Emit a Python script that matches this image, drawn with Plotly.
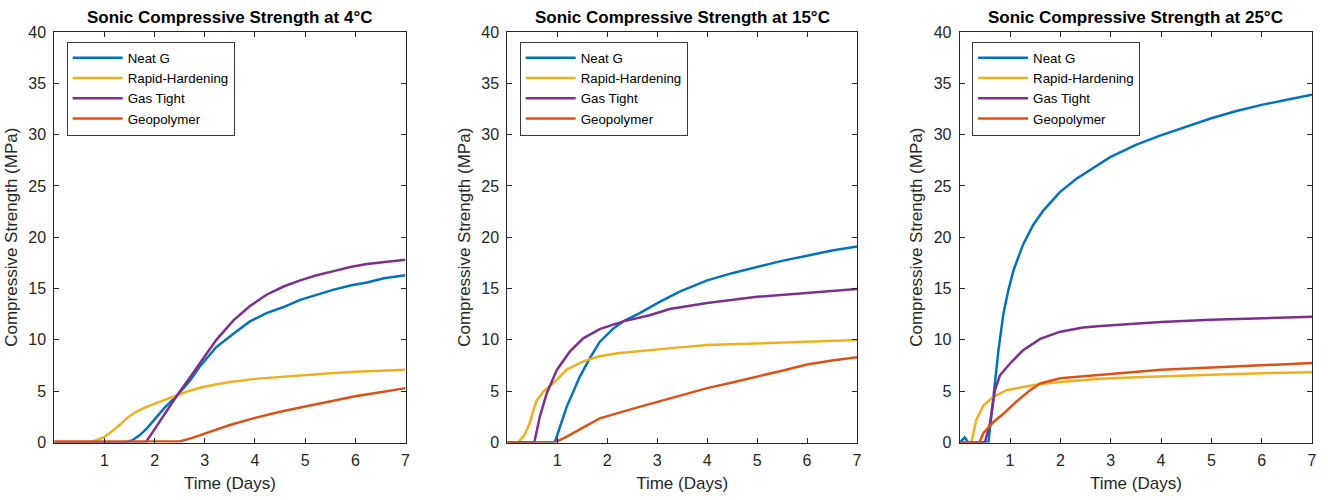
import plotly.graph_objects as go

# ---------------- data (days, MPa) ----------------
series_names = ["Neat G", "Rapid-Hardening", "Gas Tight", "Geopolymer"]
series_colors = ["#0072BD", "#EDB120", "#7E2F8E", "#D95319"]
temperatures = ["4°C", "15°C", "25°C"]
x_tick_labels = [1, 2, 3, 4, 5, 6, 7]
y_tick_labels = [0, 5, 10, 15, 20, 25, 30, 35, 40]

# 4°C
neat_4_t = [0, 1.4, 1.55, 1.7, 1.85, 2.0, 2.2, 2.45, 2.7, 2.9, 3.23, 3.57, 3.9, 4.23, 4.57, 4.9, 5.23, 5.57, 5.9, 6.23, 6.57, 7.0]
neat_4_v = [0, 0, 0.2, 0.7, 1.4, 2.3, 3.4, 4.6, 6.0, 7.4, 9.3, 10.6, 11.8, 12.6, 13.2, 13.9, 14.4, 14.9, 15.3, 15.6, 16.0, 16.3]
rapid_4_t = [0, 0.65, 0.8, 1.0, 1.15, 1.3, 1.45, 1.6, 1.8, 2.0, 2.2, 2.45, 2.7, 3.0, 3.5, 4.0, 4.5, 5.0, 5.5, 6.0, 6.5, 7.0]
rapid_4_v = [0, 0, 0.15, 0.55, 1.1, 1.7, 2.4, 2.9, 3.4, 3.8, 4.15, 4.6, 5.05, 5.45, 5.9, 6.2, 6.4, 6.6, 6.75, 6.9, 7.0, 7.1]
gas_4_t = [0, 1.82, 2.0, 2.2, 2.45, 2.7, 2.9, 3.23, 3.57, 3.9, 4.23, 4.57, 4.9, 5.23, 5.57, 5.9, 6.23, 6.57, 7.0]
gas_4_v = [0, 0, 1.3, 2.8, 4.6, 6.3, 7.7, 10.0, 11.9, 13.3, 14.4, 15.2, 15.8, 16.3, 16.7, 17.1, 17.4, 17.6, 17.8]
geo_4_t = [0, 2.5, 2.75, 3.0, 3.5, 4.0, 4.5, 5.0, 5.5, 6.0, 6.5, 7.0]
geo_4_v = [0.1, 0.1, 0.45, 0.85, 1.7, 2.4, 3.0, 3.5, 4.0, 4.5, 4.9, 5.3]

# 15°C
neat_15_t = [0, 0.95, 1.19, 1.45, 1.65, 1.85, 2.12, 2.32, 2.65, 3.05, 3.45, 4.0, 4.5, 5.0, 5.5, 6.0, 6.5, 7.0]
neat_15_v = [0, 0, 3.5, 6.4, 8.2, 9.8, 11.1, 11.8, 12.6, 13.7, 14.7, 15.8, 16.5, 17.1, 17.7, 18.2, 18.7, 19.1]
rapid_15_t = [0, 0.22, 0.35, 0.45, 0.52, 0.59, 0.72, 0.95, 1.19, 1.52, 1.85, 2.2, 2.52, 3.0, 3.45, 4.0, 5.0, 6.0, 7.0]
rapid_15_v = [0, 0, 0.8, 1.9, 3.1, 4.1, 4.95, 5.9, 7.1, 7.9, 8.4, 8.7, 8.85, 9.1, 9.27, 9.5, 9.66, 9.8, 9.98]
gas_15_t = [0, 0.54, 0.65, 0.79, 0.99, 1.25, 1.52, 1.85, 2.32, 2.85, 3.25, 4.0, 5.0, 6.0, 7.0]
gas_15_v = [0, 0, 2.5, 4.8, 7.06, 8.85, 10.15, 11.05, 11.8, 12.4, 13.0, 13.6, 14.2, 14.6, 14.95]
geo_15_t = [0, 0.95, 1.19, 1.52, 1.85, 2.52, 3.25, 4.0, 4.5, 5.0, 5.5, 6.0, 6.5, 7.0]
geo_15_v = [0, 0, 0.57, 1.5, 2.35, 3.3, 4.3, 5.3, 5.85, 6.4, 7.0, 7.6, 8.0, 8.3]

# 25°C
neat_25_t = [0, 0.05, 0.1, 0.17, 0.57, 0.67, 0.77, 0.87, 0.97, 1.07, 1.26, 1.46, 1.66, 1.99, 2.32, 2.99, 3.5, 3.98, 4.5, 5.0, 5.5, 6.0, 6.5, 7.0]
neat_25_v = [0, 0.3, 0.5, 0, 0, 4.4, 9.0, 12.6, 14.9, 16.8, 19.3, 21.2, 22.6, 24.4, 25.7, 27.8, 29.0, 29.9, 30.8, 31.6, 32.3, 32.9, 33.4, 33.9]
rapid_25_t = [0, 0.23, 0.33, 0.47, 0.67, 0.93, 1.26, 1.6, 2.0, 2.8, 3.5, 4.0, 5.0, 6.0, 7.0]
rapid_25_v = [0, 0, 2.2, 3.6, 4.45, 5.1, 5.4, 5.7, 5.9, 6.2, 6.35, 6.45, 6.6, 6.75, 6.85]
gas_25_t = [0, 0.5, 0.6, 0.7, 0.8, 1.0, 1.26, 1.6, 2.0, 2.45, 2.8, 3.5, 4.0, 5.0, 6.0, 7.0]
gas_25_v = [0, 0, 1.85, 5.1, 6.55, 7.7, 9.0, 10.1, 10.8, 11.2, 11.35, 11.6, 11.75, 11.95, 12.1, 12.25]
geo_25_t = [0, 0.39, 0.47, 0.57, 0.67, 0.87, 1.13, 1.4, 1.6, 2.0, 2.8, 3.5, 4.0, 5.0, 6.0, 7.0]
geo_25_v = [0, 0, 0.9, 1.5, 2.0, 2.8, 4.0, 5.1, 5.75, 6.25, 6.6, 6.95, 7.1, 7.3, 7.55, 7.75]

panel_data = [
    [(neat_4_t, neat_4_v), (rapid_4_t, rapid_4_v), (gas_4_t, gas_4_v), (geo_4_t, geo_4_v)],
    [(neat_15_t, neat_15_v), (rapid_15_t, rapid_15_v), (gas_15_t, gas_15_v), (geo_15_t, geo_15_v)],
    [(neat_25_t, neat_25_v), (rapid_25_t, rapid_25_v), (gas_25_t, gas_25_v), (geo_25_t, geo_25_v)],
]

# ---------------- layout geometry ----------------
W, H = 1328, 500
FONT = "Liberation Sans, Arial, Helvetica, sans-serif"
AX = "#262626"
x_domains_px = [(54.3, 405.5), (507.3, 857.0), (959.7, 1312.0)]
y_domain = [1 - 442.5 / H, 1 - 32 / H]

fig = go.Figure()
layout = dict(
    width=W, height=H,
    margin=dict(l=0, r=0, t=0, b=0, autoexpand=False),
    paper_bgcolor="white", plot_bgcolor="white",
    font=dict(family=FONT, color=AX, size=16),
    annotations=[],
)

for i, (temp, series) in enumerate(zip(temperatures, panel_data)):
    sfx = "" if i == 0 else str(i + 1)
    leg = "legend" + sfx
    for name, color, (t, v) in zip(series_names, series_colors, series):
        fig.add_trace(go.Scatter(
            x=t, y=v, mode="lines", name=name,
            line=dict(color=color, width=2.5),
            xaxis="x" + sfx, yaxis="y" + sfx, legend=leg,
            hoverinfo="skip",
        ))
    l_px, r_px = x_domains_px[i]
    axis_common = dict(
        showline=True, linecolor=AX, linewidth=1, mirror="ticks",
        ticks="inside", ticklen=5, tickwidth=1, tickcolor=AX,
        showgrid=False, zeroline=False, automargin=False,
        tickfont=dict(family=FONT, size=16, color=AX),
        title_font=dict(family=FONT, size=17, color=AX),
    )
    layout["xaxis" + sfx] = dict(
        axis_common, domain=[l_px / W, r_px / W], range=[0, 7],
        tickvals=x_tick_labels, ticklabelstandoff=3,
        title=dict(text="Time (Days)", standoff=9),
        anchor="y" + sfx,
    )
    layout["yaxis" + sfx] = dict(
        axis_common, domain=y_domain, range=[0, 40],
        tickvals=y_tick_labels, ticklabelstandoff=4,
        title=dict(text="Compressive Strength (MPa)", standoff=6),
        anchor="x" + sfx,
    )
    layout[leg] = dict(
        x=(l_px + 12.4) / W, y=1 - 41.5 / H, xanchor="left", yanchor="top",
        bgcolor="white", bordercolor="#3a3a3a", borderwidth=1,
        font=dict(family=FONT, size=13.3, color="#000000"),
        itemwidth=50, tracegroupgap=0,
    )
    layout["annotations"].append(dict(
        text="<b>Sonic Compressive Strength at %s</b>" % temp,
        x=(l_px + r_px) / 2 / W, y=1 - 17 / H, xref="paper", yref="paper",
        xanchor="center", yanchor="middle", showarrow=False,
        font=dict(family=FONT, size=17, color="#000000"),
    ))

fig.update_layout(**layout)
fig.write_html("out.html", config={"displayModeBar": False})
